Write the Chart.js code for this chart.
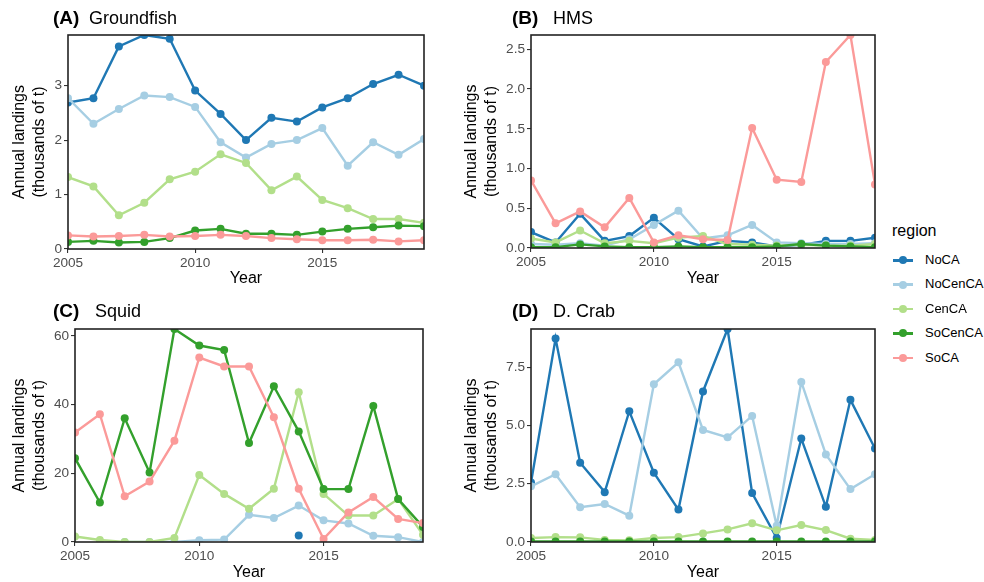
<!DOCTYPE html>
<html>
<head>
<meta charset="utf-8">
<script src="https://cdn.jsdelivr.net/npm/chart.js@4.4.1/dist/chart.umd.min.js"></script>
<style>
  body { margin: 0; background: #fff; font-family: "Liberation Sans", Arial, sans-serif; }
  #wrap { position: relative; width: 984px; height: 582px; overflow: hidden; }
  canvas { position: absolute; }
  .ptitle { position: absolute; font-size: 18px; line-height: 18px; color: #000; white-space: nowrap; }
  .ptitle b { position: absolute; font-size: 19px; }
  .ptitle span { position: absolute; }
  #legend { position: absolute; left: 892px; top: 221px; }
  #legend .ltitle { font-size: 16px; line-height: 20px; color: #000; }
  .item { position: absolute; left: 1px; height: 20px; width: 90px; }
  .item .key { position: absolute; left: 0; top: 9px; width: 20px; height: 2.5px; }
  .item .dot { position: absolute; left: 6px; top: 6.3px; width: 8px; height: 8px; border-radius: 50%; }
  .item .lab { position: absolute; left: 32px; top: 0; font-size: 13px; line-height: 20px; color: #000; }
</style>
</head>
<body>
<div id="wrap">
  <canvas id="groundfish" width="440" height="290" style="left:0;top:0"></canvas>
  <canvas id="hms" width="440" height="290" style="left:440px;top:0"></canvas>
  <canvas id="squid" width="440" height="292" style="left:0;top:290px"></canvas>
  <canvas id="crab" width="440" height="292" style="left:440px;top:290px"></canvas>

  <div class="ptitle" style="left:53px;top:9px"><b>(A)</b><span style="left:36px">Groundfish</span></div>
  <div class="ptitle" style="left:512px;top:9px"><b>(B)</b><span style="left:41px">HMS</span></div>
  <div class="ptitle" style="left:53px;top:302px"><b>(C)</b><span style="left:42px">Squid</span></div>
  <div class="ptitle" style="left:512px;top:302px"><b>(D)</b><span style="left:41px">D. Crab</span></div>

  <div id="legend"><div class="ltitle">region</div></div>
</div>

<script>
// years on the x axis and the tick marks shown
const years = [2005, 2006, 2007, 2008, 2009, 2010, 2011, 2012, 2013, 2014, 2015, 2016, 2017, 2018, 2019];
const yearTicks = [2005, 2010, 2015];

const regions = ['NoCA', 'NoCenCA', 'CenCA', 'SoCenCA', 'SoCA'];
const regionColors = ['#1F78B4', '#A6CEE3', '#B2DF8A', '#33A02C', '#FB9A99'];

// (A) Groundfish, thousands of t
const groundfishNoCA    = [2.69, 2.77, 3.72, 3.93, 3.86, 2.91, 2.48, 2.00, 2.41, 2.34, 2.60, 2.77, 3.03, 3.20, 3.00];
const groundfishNoCenCA = [2.77, 2.30, 2.57, 2.82, 2.79, 2.61, 1.96, 1.68, 1.93, 2.00, 2.22, 1.53, 1.96, 1.73, 2.02];
const groundfishCenCA   = [1.32, 1.15, 0.62, 0.85, 1.28, 1.42, 1.74, 1.58, 1.08, 1.33, 0.90, 0.75, 0.55, 0.55, 0.48];
const groundfishSoCenCA = [0.13, 0.15, 0.12, 0.13, 0.20, 0.34, 0.37, 0.28, 0.28, 0.26, 0.32, 0.37, 0.40, 0.43, 0.42];
const groundfishSoCA    = [0.25, 0.23, 0.24, 0.26, 0.23, 0.24, 0.26, 0.24, 0.20, 0.18, 0.16, 0.16, 0.17, 0.14, 0.16];
const groundfishTicks = [0, 1, 2, 3];

// (B) HMS
const hmsNoCA    = [0.20, 0.07, 0.43, 0.09, 0.15, 0.38, 0.11, 0.02, 0.09, 0.07, 0.02, 0.04, 0.09, 0.09, 0.13];
const hmsNoCenCA = [0.05, 0.04, 0.06, 0.03, 0.11, 0.29, 0.47, 0.12, 0.16, 0.29, 0.07, 0.06, 0.05, 0.05, 0.06];
const hmsCenCA   = [0.12, 0.07, 0.22, 0.06, 0.09, 0.06, 0.13, 0.15, 0.05, 0.04, 0.03, 0.04, 0.03, 0.03, 0.05];
const hmsSoCenCA = [0.01, 0.01, 0.045, 0.02, 0.01, 0.01, 0.02, 0.01, 0.01, 0.01, 0.02, 0.05, 0.03, 0.02, 0.01];
const hmsSoCA    = [0.85, 0.31, 0.46, 0.26, 0.63, 0.07, 0.16, 0.11, 0.10, 1.51, 0.86, 0.83, 2.34, 2.68, 0.80];
const hmsTicks = [0, 0.5, 1, 1.5, 2, 2.5];

// (C) Squid
const squidNoCA    = [null, null, null, null, null, null, null, null, null, 1.9, null, null, null, null, null];
const squidNoCenCA = [null, null, 0, 0, 0, 0.5, 0.7, 7.9, 7.0, 10.6, 6.3, 5.4, 1.8, 1.4, 0];
const squidCenCA   = [1.6, 0.6, 0, 0, 1.2, 19.5, 14.0, 9.7, 15.5, 43.6, 14.0, 7.7, 7.7, 12.5, 2.1];
const squidSoCenCA = [24.4, 11.5, 36.0, 20.2, 62.0, 57.2, 55.9, 28.8, 45.3, 32.2, 15.4, 15.4, 39.6, 12.5, 4.4];
const squidSoCA    = [31.9, 37.2, 13.3, 17.6, 29.5, 53.7, 51.1, 51.1, 36.3, 15.5, 0.9, 8.6, 13.1, 6.7, 5.5];
const squidTicks = [0, 20, 40, 60];

// (D) Dungeness crab
const crabNoCA    = [2.55, 8.73, 3.40, 2.14, 5.61, 2.97, 1.39, 6.46, 9.14, 2.10, 0.17, 4.44, 1.51, 6.10, 4.01];
const crabNoCenCA = [2.39, 2.91, 1.49, 1.63, 1.13, 6.77, 7.71, 4.81, 4.49, 5.41, 0.70, 6.87, 3.76, 2.27, 2.91];
const crabCenCA   = [0.17, 0.21, 0.20, 0.09, 0.07, 0.17, 0.21, 0.37, 0.54, 0.80, 0.50, 0.73, 0.51, 0.14, 0.09];
const crabSoCenCA = [0.02, 0.02, 0.02, 0.02, 0.02, 0.02, 0.02, 0.02, 0.02, 0.02, 0.02, 0.02, 0.02, 0.02, 0.02];
const crabTicks = [0, 2.5, 5, 7.5];

const FONT = '"Liberation Sans", Arial, sans-serif';

// ggplot-style panel border drawn over the lines
const panelBorder = {
    id: 'panelBorder',
    afterDatasetsDraw(chart) {
        const a = chart.chartArea, ctx = chart.ctx;
        ctx.save();
        ctx.strokeStyle = '#222';
        ctx.lineWidth = 1.6;
        ctx.strokeRect(a.left, a.top, a.right - a.left, a.bottom - a.top);
        ctx.restore();
    }
};

function makePanel(id, series, yTicks, decimals, box) {
    const datasets = [];
    series.forEach(function(vals, i) {
        if (!vals) return;
        datasets.push({
            label: regions[i],
            data: vals,
            borderColor: regionColors[i],
            backgroundColor: regionColors[i],
            borderWidth: 2.4,
            pointRadius: 4,
            pointBorderWidth: 0,
            pointHoverRadius: 4,
            tension: 0,
            clip: 0,
            order: regions.length - i
        });
    });
    const all = [].concat.apply([], series.filter(Boolean)).filter(v => v !== null);
    const yMax = Math.max.apply(null, all);

    return new Chart(document.getElementById(id), {
        type: 'line',
        data: { labels: years, datasets: datasets },
        plugins: [panelBorder],
        options: {
            responsive: false,
            animation: false,
            devicePixelRatio: 1,
            layout: { padding: { left: box.padLeft, right: box.padRight, top: box.padTop, bottom: 0 } },
            plugins: { legend: { display: false }, tooltip: { enabled: false } },
            scales: {
                x: {
                    type: 'linear',
                    min: 2005,
                    max: 2019,
                    afterBuildTicks: s => { s.ticks = yearTicks.map(v => ({ value: v })); },
                    afterFit: s => { s.height = box.xHeight; },
                    grid: { drawOnChartArea: false, drawTicks: true, tickLength: 4, color: '#333', lineWidth: 1.1 },
                    border: { display: false },
                    ticks: {
                        padding: 2,
                        color: '#4D4D4D',
                        font: { family: FONT, size: 13.6 },
                        maxRotation: 0,
                        callback: v => String(v)
                    },
                    title: {
                        display: true,
                        text: 'Year',
                        color: '#000',
                        font: { family: FONT, size: 16, lineHeight: 1.2 },
                        padding: { top: 0, bottom: box.yearPad }
                    }
                },
                y: {
                    min: 0,
                    max: yMax,
                    afterBuildTicks: s => { s.ticks = yTicks.map(v => ({ value: v })); },
                    afterFit: s => { s.width = box.yWidth; },
                    grid: { drawOnChartArea: false, drawTicks: true, tickLength: 4, color: '#333', lineWidth: 1.1 },
                    border: { display: false },
                    ticks: {
                        padding: 2,
                        color: '#4D4D4D',
                        font: { family: FONT, size: 13.6 },
                        callback: v => Number(v).toFixed(decimals)
                    },
                    title: {
                        display: true,
                        text: ['Annual landings', '(thousands of t)'],
                        color: '#000',
                        font: { family: FONT, size: 16, lineHeight: 1.25 },
                        padding: { top: 2, bottom: 0 }
                    }
                }
            }
        }
    });
}

makePanel('groundfish',
    [groundfishNoCA, groundfishNoCenCA, groundfishCenCA, groundfishSoCenCA, groundfishSoCA],
    groundfishTicks, 0,
    { padLeft: 8, padRight: 16, padTop: 35, yWidth: 60, xHeight: 41, yearPad: 2 });

makePanel('hms',
    [hmsNoCA, hmsNoCenCA, hmsCenCA, hmsSoCenCA, hmsSoCA],
    hmsTicks, 1,
    { padLeft: 20, padRight: 5, padTop: 35, yWidth: 71, xHeight: 42, yearPad: 2 });

makePanel('squid',
    [squidNoCA, squidNoCenCA, squidCenCA, squidSoCenCA, squidSoCA],
    squidTicks, 0,
    { padLeft: 8, padRight: 17, padTop: 39, yWidth: 67, xHeight: 40, yearPad: 0 });

makePanel('crab',
    [crabNoCA, crabNoCenCA, crabCenCA, crabSoCenCA, null],
    crabTicks, 1,
    { padLeft: 20, padRight: 5, padTop: 39, yWidth: 71, xHeight: 40, yearPad: 0 });

// legend keys: line with a point, like the plotted series
const legend = document.getElementById('legend');
regions.forEach(function(name, i) {
    const item = document.createElement('div');
    item.className = 'item';
    item.style.top = (29 + i * 24.4) + 'px';
    item.innerHTML = '<div class="key" style="background:' + regionColors[i] + '"></div>' +
        '<div class="dot" style="background:' + regionColors[i] + '"></div>' +
        '<div class="lab">' + name + '</div>';
    legend.appendChild(item);
});
</script>
</body>
</html>
